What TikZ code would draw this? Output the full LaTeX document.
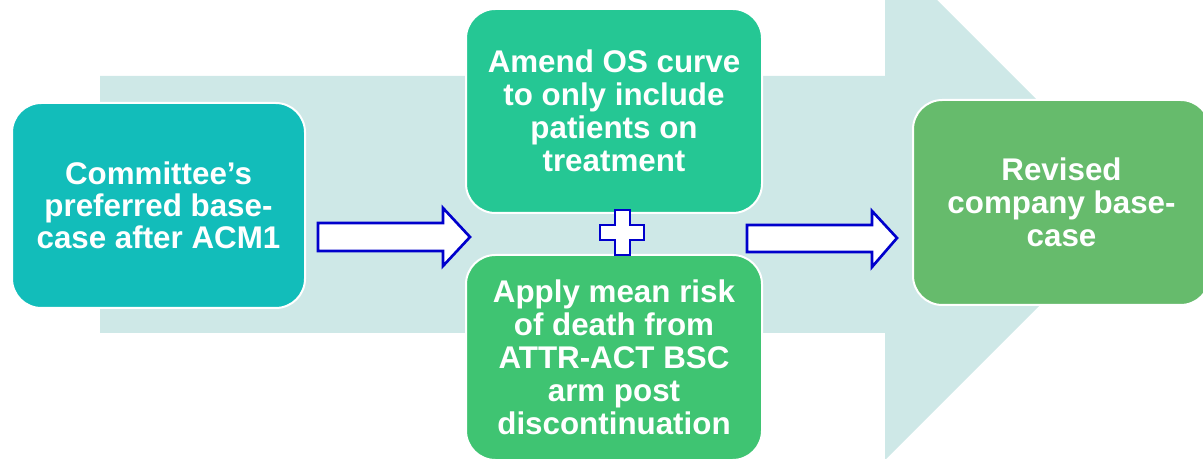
\documentclass[tikz,border=0pt]{standalone}
\usepackage{fontspec}
\setmainfont{Liberation Sans}
\definecolor{bgarrow}{HTML}{CEE8E7}
\definecolor{cteal}{HTML}{12BDBA}
\definecolor{cgreenA}{HTML}{25C794}
\definecolor{cgreenB}{HTML}{3FC472}
\definecolor{cgreenC}{HTML}{66BB6C}
\definecolor{cblue}{HTML}{0000CC}
\tikzset{
  box/.style={draw=white, line width=1.5pt, rounded corners=22pt, text=white,
    font=\bfseries\fontsize{23.5pt}{24.75pt}\selectfont, align=center,
    inner sep=0pt},
  blockarrow/.style={draw=cblue, fill=white, line width=2pt, line join=miter},
}
\begin{document}
\begin{tikzpicture}[x=0.75pt, y=-0.75pt]
\useasboundingbox (0,0) rectangle (1203,459);
\begin{scope}
\clip (0,0) rectangle (1203,459);
% big background arrow
\fill[bgarrow] (100,76) -- (885,76) -- (885,-52) -- (1141,204) -- (885,460) -- (885,333) -- (100,333) -- cycle;
% boxes
\node[box, fill=cteal, minimum width=219.75pt, minimum height=153.75pt,
  font=\bfseries\fontsize{23.5pt}{23.8pt}\selectfont] (base) at (158.5,205.5)
  {Committee’s\\preferred base-\\case after ACM1};
\node[box, fill=cgreenA, minimum width=222pt, minimum height=153pt] (amend) at (614,111)
  {Amend OS curve\\to only include\\patients on\\treatment};
\node[box, fill=cgreenB, minimum width=222pt, minimum height=153.75pt] (apply) at (614,357.5)
  {Apply mean risk\\of death from\\ATTR-ACT BSC\\arm post\\discontinuation};
\node[box, fill=cgreenC, minimum width=222.75pt, minimum height=153.75pt] (revised) at (1061.5,202.5)
  {Revised\\company base-\\case};
% block arrows
\draw[blockarrow] (318,223) -- (443,223) -- (443,208) -- (470,237) -- (443,266) -- (443,251) -- (318,251) -- cycle;
\draw[blockarrow] (747,225) -- (872,225) -- (872,211) -- (897,238) -- (872,267) -- (872,252) -- (747,252) -- cycle;
% plus sign
\draw[blockarrow] (615,210) -- (630,210) -- (630,225) -- (644,225) -- (644,240) -- (630,240) -- (630,255) -- (615,255) -- (615,240) -- (600,240) -- (600,225) -- (615,225) -- cycle;
\end{scope}
\end{tikzpicture}
\end{document}
